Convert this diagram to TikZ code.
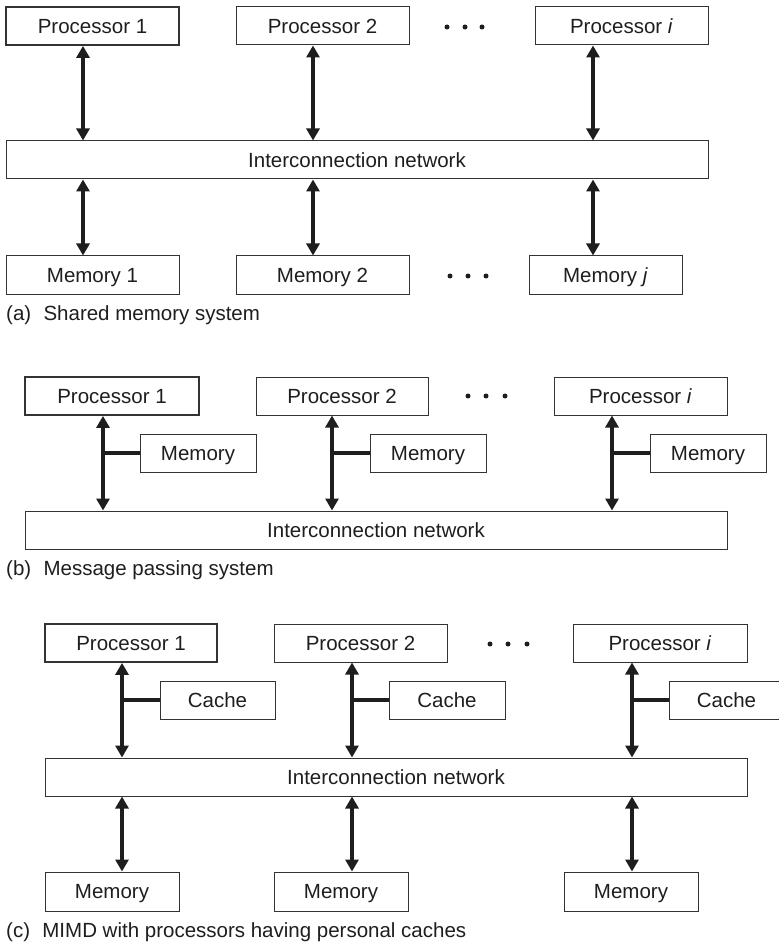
\documentclass[tikz,border=0pt]{standalone}
\usepackage{fontspec}
\setmainfont{Liberation Sans}
\usetikzlibrary{arrows.meta}
\definecolor{ink}{HTML}{1E1E1E}
\definecolor{edge}{HTML}{333333}
\tikzset{
  box/.style={draw=edge, line width=1pt, inner sep=0pt, text=ink, text height=14.7pt, text depth=0pt, font=\fontsize{20.5}{24}\selectfont},
  boldbox/.style={box, line width=1.8pt},
  dbl/.style={line width=3.6pt, draw=ink, {Triangle[length=12pt,width=13pt]}-{Triangle[length=12pt,width=13pt]}},
  tee/.style={line width=3.4pt, draw=ink},
  captext/.style={anchor=west, inner sep=0pt, text=ink, font=\fontsize{20.5}{24}\selectfont},
  dotmark/.style={fill=ink, draw=none}
}
\newcommand{\bx}[7]{\node[#1, minimum width={#4-#3}, minimum height={#6-#5}] (#2) at ({(#3+#4)/2},{(#5+#6)/2}) {#7};}
\begin{document}
\begin{tikzpicture}[x=1pt,y=-1pt]
\useasboundingbox (0,0) rectangle (778,949);
% ---------- (a) ----------
\bx{boldbox}{ap1}{6}{179}{7}{45}{Processor 1}
\bx{box}{ap2}{236}{409}{7}{45}{Processor 2}
\bx{box}{api}{535}{708}{7}{45}{Processor \textit{i}}
\bx{box}{anet}{6}{708}{141}{179}{Interconnection network}
\bx{box}{am1}{6}{179}{256}{294}{Memory 1}
\bx{box}{am2}{236}{409}{256}{294}{Memory 2}
\bx{box}{amj}{529}{682}{256}{294}{Memory \textit{j}}
\coordinate (ax1) at (83,0);
\coordinate (ax2) at (313,0);
\coordinate (ax3) at (593,0);
\foreach \p/\m/\c in {ap1/am1/ax1, ap2/am2/ax2, api/amj/ax3}{
  \draw[dbl] (\p.south -| \c) -- (anet.north -| \c);
  \draw[dbl] (anet.south -| \c) -- (\m.north -| \c);
}
\foreach \x in {447,465,482} \fill[dotmark] (\x,27) circle (2.5);
\foreach \x in {450,468,486} \fill[dotmark] (\x,276) circle (2.5);
\node[captext] (capa) at (6,315) {(a)\hspace{0.6em}Shared memory system};
% ---------- (b) ----------
\bx{boldbox}{bp1}{25}{199}{377}{415}{Processor 1}
\bx{box}{bp2}{256}{428}{377}{415}{Processor 2}
\bx{box}{bpi}{554}{727}{377}{415}{Processor \textit{i}}
\bx{box}{bm1}{140}{256}{434}{472}{Memory}
\bx{box}{bm2}{370}{486}{434}{472}{Memory}
\bx{box}{bmi}{650}{766}{434}{472}{Memory}
\bx{box}{bnet}{25}{727}{511}{549}{Interconnection network}
\coordinate (bx1) at (103,0);
\coordinate (bx2) at (332,0);
\coordinate (bx3) at (612,0);
\foreach \p/\m/\c in {bp1/bm1/bx1, bp2/bm2/bx2, bpi/bmi/bx3}{
  \draw[dbl] (\p.south -| \c) -- (bnet.north -| \c);
  \draw[tee] (\m.west) -- (\m.west -| \c);
}
\foreach \x in {468,486,505} \fill[dotmark] (\x,396) circle (2.5);
\node[captext] (capb) at (6,570) {(b)\hspace{0.6em}Message passing system};
% ---------- (c) ----------
\bx{boldbox}{cp1}{45}{217}{624}{662}{Processor 1}
\bx{box}{cp2}{274}{447}{624}{662}{Processor 2}
\bx{box}{cpi}{573}{747}{624}{662}{Processor \textit{i}}
\bx{box}{cc1}{160}{275}{681}{719}{Cache}
\bx{box}{cc2}{389}{505}{681}{719}{Cache}
\bx{box}{cci}{669}{784}{681}{719}{Cache}
\bx{box}{cnet}{45}{747}{758}{796}{Interconnection network}
\bx{box}{cm1}{45}{179}{872}{911}{Memory}
\bx{box}{cm2}{274}{408}{872}{911}{Memory}
\bx{box}{cm3}{564}{698}{872}{911}{Memory}
\coordinate (cx1) at (122,0);
\coordinate (cx2) at (352,0);
\coordinate (cx3) at (632,0);
\foreach \p/\k/\m/\c in {cp1/cc1/cm1/cx1, cp2/cc2/cm2/cx2, cpi/cci/cm3/cx3}{
  \draw[dbl] (\p.south -| \c) -- (cnet.north -| \c);
  \draw[tee] (\k.west) -- (\k.west -| \c);
  \draw[dbl] (cnet.south -| \c) -- (\m.north -| \c);
}
\foreach \x in {490,508,527} \fill[dotmark] (\x,644) circle (2.5);
\node[captext] (capc) at (6,932) {(c)\hspace{0.6em}MIMD with processors having personal caches};
\end{tikzpicture}
\end{document}
